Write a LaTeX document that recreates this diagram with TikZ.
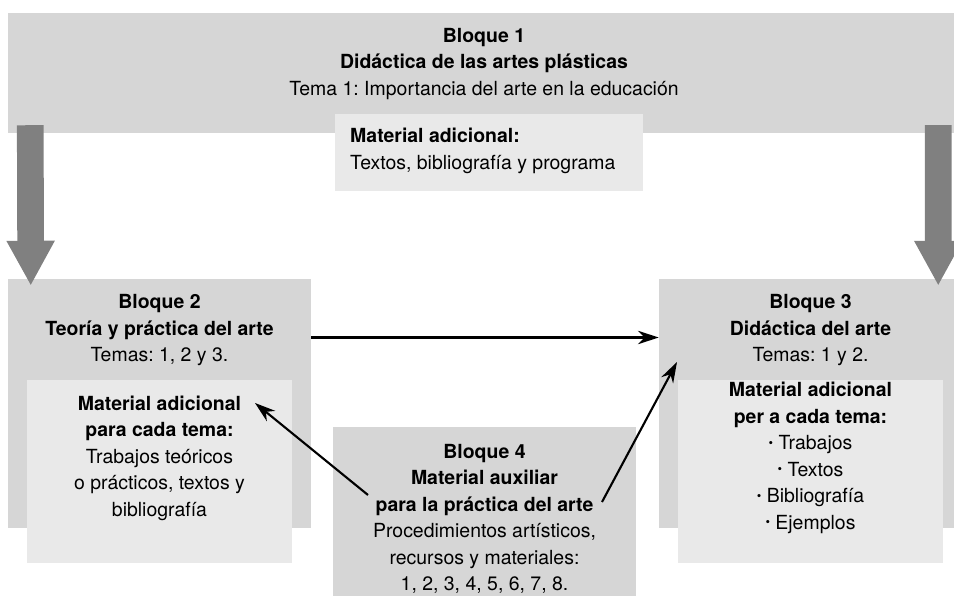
\documentclass[tikz,border=0pt]{standalone}
\usepackage{fontspec}
\setmainfont{TeX Gyre Heros}
\usetikzlibrary{arrows.meta}
\definecolor{boxgray}{HTML}{D6D6D6}
\definecolor{innergray}{HTML}{E9E9E9}
\definecolor{arrowgray}{HTML}{808080}
\newcommand{\dotitem}{\raisebox{0.25ex}{\fontsize{11}{11}\selectfont•}\ }
\tikzset{
  every node/.style={font=\fontsize{16.6}{22.6}\selectfont\frenchspacing,inner sep=0pt,align=center},
  outer/.style={fill=boxgray,rectangle},
  inner/.style={fill=innergray,rectangle},
  bigarrow/.style={draw=arrowgray,line width=0.8cm,-{Triangle[length=1.35cm,width=1.35cm]}},
  linkarrow/.style={line width=1.8pt,-{Stealth[length=0.62cm,width=0.4cm,inset=0.2cm]}}
}
\begin{document}
\begin{tikzpicture}[x=0.03cm,y=-0.03cm]
\useasboundingbox(0,0)rectangle(954,596);
\clip(0,0)rectangle(954,596);
\node[outer,minimum width=28.38cm,minimum height=3.6cm](b1)at(481,73){};
\node(t1)at(484,64){\textbf{Bloque 1}\\\textbf{Didáctica de las artes plásticas}\\Tema 1: Importancia del arte en la educación};
\node[inner,minimum width=9.24cm,minimum height=2.31cm](m1)at(489,152.5){};
\node[anchor=west,align=left](tm1)at(350,151){\textbf{Material adicional:}\\Textos, bibliografía y programa};
\node[outer,minimum width=9.09cm,minimum height=7.47cm](b2)at(159.5,403.5){};
\node(t2)at(159.5,330.5){\textbf{Bloque 2}\\\textbf{Teoría y práctica del arte}\\Temas: 1, 2 y 3.};
\node[inner,minimum width=7.95cm,minimum height=5.49cm](m2)at(159.5,471.5){};
\node(tm2)at(159.5,458){\textbf{Material adicional}\\\textbf{para cada tema:}\\Trabajos teóricos\\o prácticos, textos y\\bibliografía};
\node[outer,minimum width=9.09cm,minimum height=7.47cm](b3)at(810.5,403.5){};
\node(t3)at(810.5,330.5){\textbf{Bloque 3}\\\textbf{Didáctica del arte}\\Temas: 1 y 2.};
\node[inner,minimum width=7.95cm,minimum height=5.49cm](m3)at(810.5,471.5){};
\node(tm3)at(810.5,458){\textbf{Material adicional}\\\textbf{per a cada tema:}\\\dotitem Trabajos\\\dotitem Textos\\\dotitem Bibliografía\\\dotitem Ejemplos};
\node[outer,minimum width=9.09cm,minimum height=5.4cm](b4)at(484.5,517){};
\node(t4)at(484.5,519){\textbf{Bloque 4}\\\textbf{Material auxiliar}\\\textbf{para la práctica del arte}\\Procedimientos artísticos,\\recursos y materiales:\\1, 2, 3, 4, 5, 6, 7, 8.};
\coordinate(s2)at(368,495);
\coordinate(e2)at(255,403);
\coordinate(s3)at(602,502);
\coordinate(e3)at(677,362);
\draw[bigarrow]([xshift=0.675cm,yshift=0.24cm]b1.south west)--([xshift=0.69cm,yshift=-0.21cm]b2.north west);
\draw[bigarrow]([xshift=-0.48cm,yshift=0.24cm]b1.south east)--([xshift=-0.72cm,yshift=-0.21cm]b3.north east);
\draw[linkarrow]([yshift=-0.21cm]b2.east|-t2.center)--([yshift=-0.21cm]b3.west|-t2.center);
\draw[linkarrow](s2)--(e2);
\draw[linkarrow](s3)--(e3);
\end{tikzpicture}
\end{document}
